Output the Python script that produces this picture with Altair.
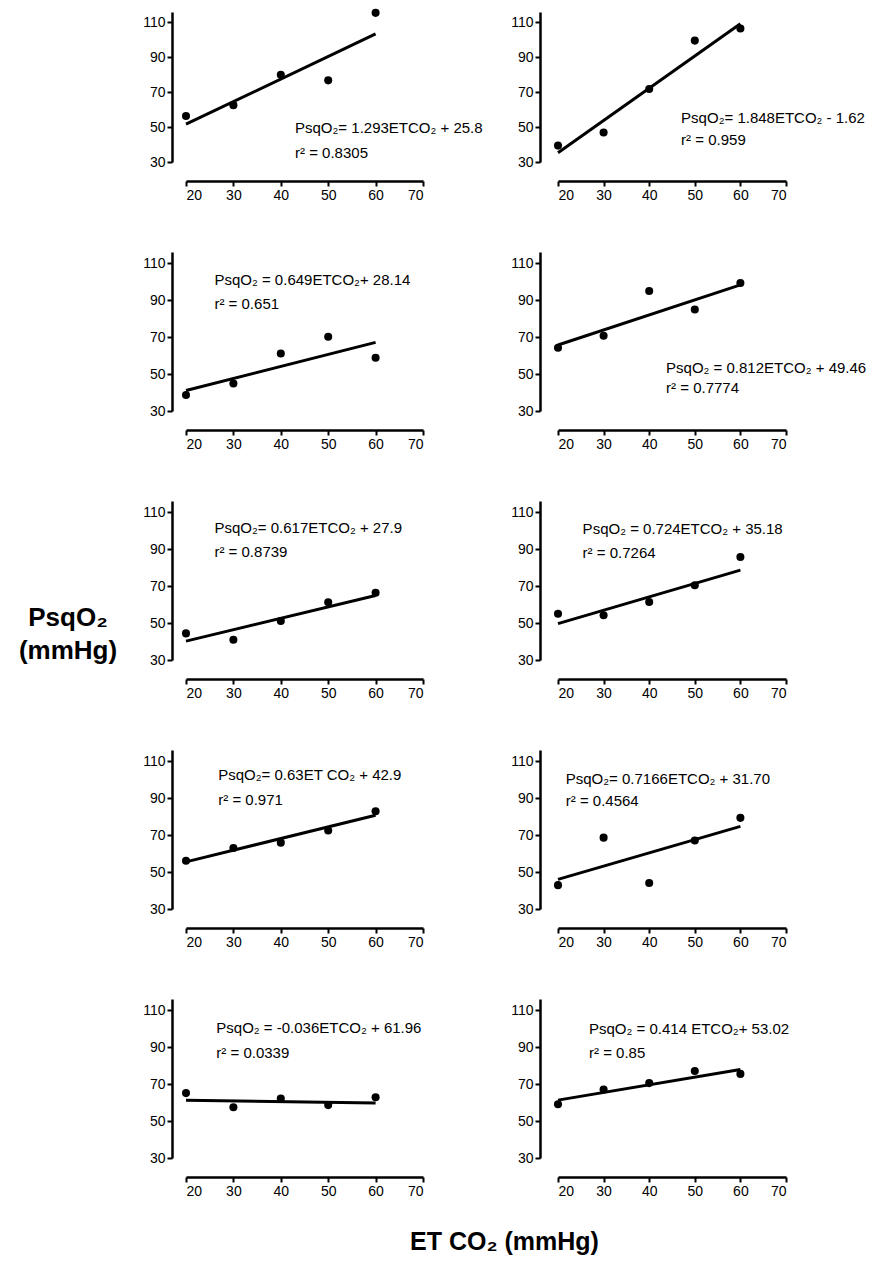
import altair as alt
import pandas as pd

et_co2 = [20, 30, 40, 50, 60]
psq = [
    [56.4, 62.6, 80.0, 76.8, 115.5],
    [39.4, 46.9, 71.8, 99.6, 106.5],
    [38.7, 44.9, 61.1, 70.2, 58.8],
    [64.2, 70.7, 94.9, 84.9, 99.2],
    [44.4, 41.0, 51.1, 61.2, 66.4],
    [55.0, 54.2, 61.4, 70.4, 85.7],
    [56.1, 63.0, 65.9, 72.5, 82.9],
    [42.9, 68.6, 44.1, 67.1, 79.3],
    [65.1, 57.5, 62.2, 58.6, 62.9],
    [59.1, 67.1, 70.5, 77.1, 75.5],
]
fit_x = [20, 60]
fit_y = [
    [51.7, 103.4], [35.3, 109.3], [41.1, 67.1], [65.7, 98.2], [40.2, 64.9],
    [49.7, 78.6], [55.5, 80.7], [46.0, 74.7], [61.2, 59.8], [61.3, 77.9],
]
equations = [
    "PsqO₂= 1.293ETCO₂ + 25.8",
    "PsqO₂= 1.848ETCO₂ - 1.62",
    "PsqO₂ = 0.649ETCO₂+ 28.14",
    "PsqO₂ = 0.812ETCO₂ + 49.46",
    "PsqO₂= 0.617ETCO₂ + 27.9",
    "PsqO₂ = 0.724ETCO₂ + 35.18",
    "PsqO₂= 0.63ET CO₂ + 42.9",
    "PsqO₂= 0.7166ETCO₂ + 31.70",
    "PsqO₂ = -0.036ETCO₂ + 61.96",
    "PsqO₂ = 0.414 ETCO₂+ 53.02",
]
r_squared = [
    "r² = 0.8305", "r² = 0.959", "r² = 0.651", "r² = 0.7774", "r² = 0.8739",
    "r² = 0.7264", "r² = 0.971", "r² = 0.4564", "r² = 0.0339", "r² = 0.85",
]
annot_x = [43, 47, 26, 43.7, 26, 25.4, 26.8, 21.7, 26.4, 26.8]
annot_y1 = [49.7, 55.1, 101, 53, 101.5, 101, 102.5, 100.4, 100.1, 99.7]
annot_y2 = [35, 42.4, 88, 42.2, 88.4, 88, 89.1, 88.2, 87, 86.8]
x_ticks = [20, 30, 40, 50, 60, 70]
y_ticks = [30, 50, 70, 90, 110]

FONT = "Liberation Sans"


def panel(i, width, height, yoff):
    pts = pd.DataFrame({"x": et_co2, "y": psq[i]})
    fit = pd.DataFrame({"x": fit_x, "y": fit_y[i]})
    ann = pd.DataFrame({
        "x": [annot_x[i], annot_x[i]],
        "y": [annot_y1[i], annot_y2[i]],
        "t": [equations[i], r_squared[i]],
    })

    def enc():
        xs = alt.Scale(domain=[20, 70], nice=False, zero=False)
        ys = alt.Scale(domain=[30, 116], nice=False, zero=False)
        xa = alt.Axis(values=x_ticks, offset=19, title=None, format="d",
                      labelOverlap=False, tickCount=6)
        ya = alt.Axis(values=y_ticks, offset=yoff, title=None, format="d",
                      labelOverlap=False, tickCount=5)
        return dict(x=alt.X("x:Q", scale=xs, axis=xa),
                    y=alt.Y("y:Q", scale=ys, axis=ya))

    p = alt.Chart(pts).mark_point(filled=True, size=65, color="black", opacity=1).encode(**enc())
    line = alt.Chart(fit).mark_line(color="black", strokeWidth=3).encode(**enc())
    txt = alt.Chart(ann).mark_text(
        align="left", baseline="middle", fontSize=15, font=FONT, color="black"
    ).encode(text="t:N", **enc())
    return alt.layer(p, line, txt).properties(width=width, height=height)


cells = []
for r in range(5):
    h = 150 if r == 0 else 159
    cells.append(panel(2 * r, 237, h, 14))
    cells.append(panel(2 * r + 1, 228, h, 18))

grid = alt.concat(
    *cells, columns=2, spacing={"row": 90, "column": 135}, bounds="flush"
).properties(
    title=alt.TitleParams(
        "ET CO₂ (mmHg)", orient="bottom", anchor="middle", fontSize=25,
        fontWeight="bold", font=FONT, color="black", offset=32, dx=0
    )
)

ytitle = alt.Chart(pd.DataFrame({"a": [0]})).mark_text(
    text=["PsqO₂", "(mmHg)"], lineHeight=33, fontSize=26, fontWeight="bold",
    font=FONT, color="black", align="center", baseline="middle"
).encode(x=alt.value(60), y=alt.value(606)).properties(width=110, height=1150)

chart = alt.hconcat(ytitle, grid, spacing=24).properties(
    padding={"left": 0, "top": 0, "right": 5, "bottom": 5}
).configure_view(stroke=None).configure_axis(
    grid=False, domainColor="black", domainWidth=2.5, tickColor="black",
    tickWidth=2, tickSize=5, labelFont=FONT, labelFontSize=14,
    labelColor="black", labelPadding=2
)

chart.save("out.html", embed_options={"renderer": "svg", "actions": False})
